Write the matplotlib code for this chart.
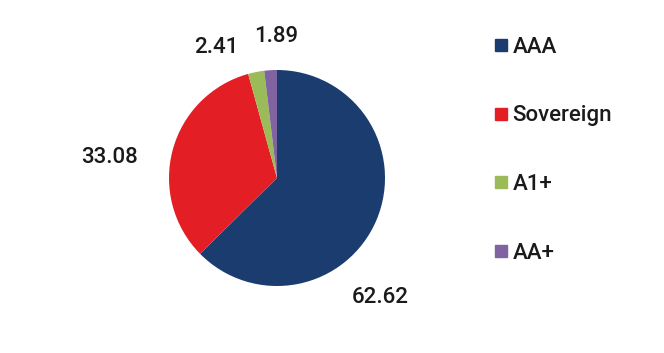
import matplotlib.pyplot as plt
from matplotlib.lines import Line2D

plt.rcParams['font.family'] = ['Roboto', 'DejaVu Sans']

categorias = ['AAA', 'Sovereign', 'A1+', 'AA+']
valores = [62.62, 33.08, 2.41, 1.89]
colores = ['#1b3c6f', '#e31e24', '#9bbb59', '#8064a2']
etiquetas = ['62.62', '33.08', '2.41', '1.89']
# posiciones de las etiquetas (en unidades del radio)
pos_etiquetas = [(0.96, -1.11), (-1.55, 0.19), (-0.56, 1.21), (-0.01, 1.31)]

fig = plt.figure(figsize=(6.64, 3.53), dpi=100)
ax = fig.add_axes([(277 - 108) / 664, (353 - 178 - 108) / 353, 216 / 664, 216 / 353])
ax.pie(valores, colors=colores, startangle=90, counterclock=False, radius=1,
       wedgeprops=dict(linewidth=0))
ax.set_xlim(-1, 1)
ax.set_ylim(-1, 1)
ax.set_aspect('equal')
ax.axis('off')

for txt, (x, y) in zip(etiquetas, pos_etiquetas):
    ax.text(x, y, txt, ha='center', va='center', fontsize=16, color='#1a1a1a',
            fontweight='medium', clip_on=False)

handles = [Line2D([], [], marker='s', linestyle='', markersize=8, color=c) for c in colores]
fig.legend(handles, categorias, loc='upper left', bbox_to_anchor=(487 / 664, 1 - 28 / 353),
           frameon=False, fontsize=16, labelspacing=2.14, handlelength=0.5,
           handletextpad=0.25, borderaxespad=0, labelcolor='#1a1a1a',
           prop=dict(size=16, weight='medium'))

fig.savefig('out.png', dpi=100)
